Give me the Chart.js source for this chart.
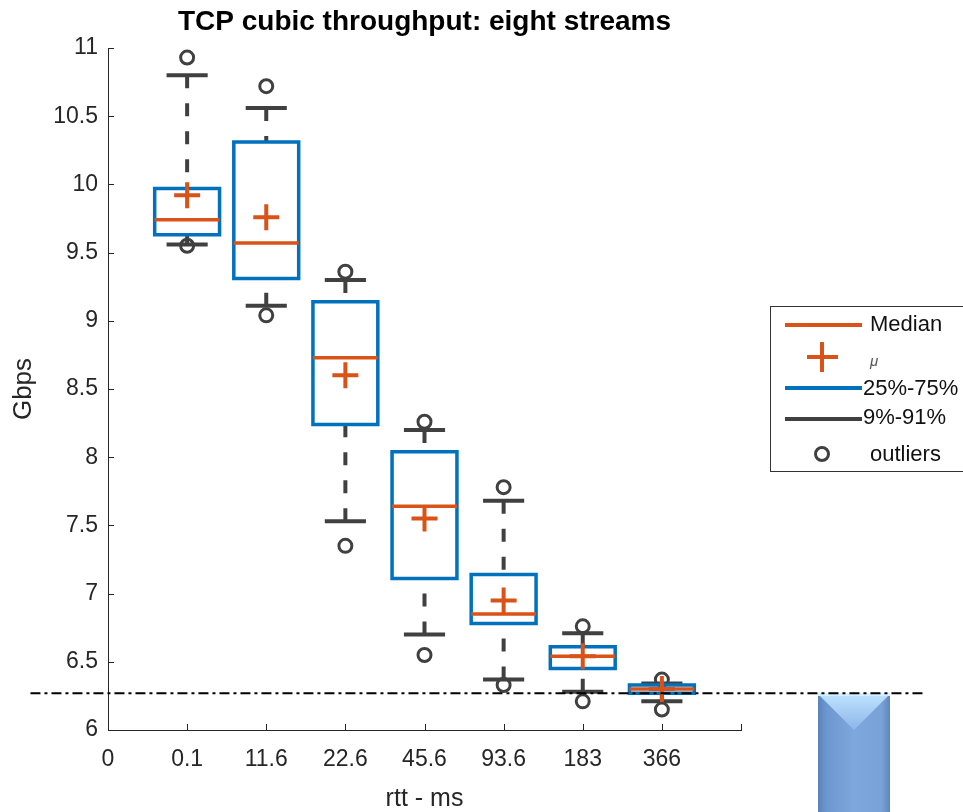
<!DOCTYPE html>
<html><head><meta charset="utf-8">
<script src="https://cdn.jsdelivr.net/npm/chart.js@4"></script>
<style>html,body{margin:0;padding:0;background:#fff}#wrap{width:963px;height:812px;position:relative}</style>
</head><body><div id="wrap"><canvas id="c" width="963" height="812"></canvas></div>
<script>
// ---- data ----
const categories = ['0.1','11.6','22.6','45.6','93.6','183','366'];
const tickLabels = ['0','0.1','11.6','22.6','45.6','93.6','183','366',''];
const q1      = [9.63, 9.31, 8.24, 7.11, 6.78, 6.45, 6.27];
const q3      = [9.97, 10.31, 9.14, 8.04, 7.14, 6.61, 6.33];
const medians = [9.74, 9.57, 8.73, 7.64, 6.85, 6.54, 6.30];
const means   = [9.92, 9.76, 8.60, 7.55, 6.95, 6.54, 6.30];
const p91     = [10.80, 10.56, 9.30, 8.20, 7.68, 6.71, 6.34];
const p9      = [9.56, 9.11, 7.53, 6.70, 6.37, 6.28, 6.21];
const outHigh = [10.93, 10.72, 9.36, 8.26, 7.78, 6.76, 6.37];
const outLow  = [9.55, 9.04, 7.35, 6.55, 6.33, 6.21, 6.15];
const refLevel = [6.27];
const refSpan  = [-0.98, 10.3];

// ---- styles ----
const BLUE = '#0072BD', ORANGE = '#D95319', GRAY = '#404040', AXIS = '#262626';
const FONT = "'Liberation Sans', Arial, Helvetica, sans-serif";
const HW = 0.41, CW = 0.26;

function hsegs(vals, half){ const d=[]; vals.forEach((v,i)=>{ d.push({x:i+1-half,y:v},{x:i+1+half,y:v},{x:i+1,y:null}); }); return d; }
function boxes(){ const d=[]; categories.forEach((c,i)=>{ const x=i+1; d.push({x:x-HW,y:q1[i]},{x:x-HW,y:q3[i]},{x:x+HW,y:q3[i]},{x:x+HW,y:q1[i]},{x:x-HW,y:q1[i]},{x:x,y:null}); }); return d; }
function whiskers(){ const d=[]; categories.forEach((c,i)=>{ const x=i+1; d.push({x:x,y:p91[i]},{x:x,y:q3[i]},{x:x,y:null},{x:x,y:p9[i]},{x:x,y:q1[i]},{x:x,y:null}); }); return d; }
const pts = arr => arr.map((v,i)=>({x:i+1,y:v}));

const base = {showLine:true, pointRadius:0, tension:0, spanGaps:false, fill:false};

const decor = {
  id:'decor',
  beforeDatasetsDraw(chart){
    const ctx = chart.ctx; ctx.save();
    // blue arrow shape bottom right
    const L=818, R=890, T=694, B=812;
    let g = ctx.createLinearGradient(L,0,R,0);
    g.addColorStop(0,'#5b83bb'); g.addColorStop(0.12,'#6f97cf'); g.addColorStop(0.5,'#7ea7de');
    g.addColorStop(0.88,'#79a2d9'); g.addColorStop(1,'#5f86bd');
    ctx.fillStyle = g; ctx.fillRect(L,T,R-L,B-T);
    let g2 = ctx.createLinearGradient(0,T,0,T+36);
    g2.addColorStop(0,'#bfe3ff'); g2.addColorStop(1,'#8db5e8');
    ctx.fillStyle = g2; ctx.beginPath(); ctx.moveTo(L,T); ctx.lineTo(R,T); ctx.lineTo((L+R)/2,T+36); ctx.closePath(); ctx.fill();
    ctx.fillStyle='#d2f0ff'; ctx.fillRect(L,T-1,R-L,3);
    ctx.restore();
  },
  afterDraw(chart){
    const ctx = chart.ctx; const xs = chart.scales.x, ys = chart.scales.y;
    const a = chart.chartArea;
    ctx.save();
    ctx.strokeStyle = AXIS; ctx.lineWidth = 1;
    ys.ticks.forEach(t=>{ const p=Math.round(ys.getPixelForValue(t.value))+0.5; ctx.beginPath(); ctx.moveTo(a.left,p); ctx.lineTo(a.left+6,p); ctx.stroke(); });
    xs.ticks.forEach(t=>{ const p=Math.round(xs.getPixelForValue(t.value))+0.5; ctx.beginPath(); ctx.moveTo(p,a.bottom); ctx.lineTo(p,a.bottom-6); ctx.stroke(); });
    // legend
    const lx=770.5, ly=306.5;
    ctx.strokeStyle='#333'; ctx.lineWidth=1; ctx.fillStyle='#fff';
    ctx.fillRect(lx,ly,220,165); ctx.strokeRect(lx,ly,220,165);
    ctx.lineCap='butt';
    ctx.lineWidth=4;
    ctx.strokeStyle=ORANGE; ctx.beginPath(); ctx.moveTo(785,325); ctx.lineTo(862,325); ctx.stroke();
    ctx.beginPath(); ctx.moveTo(807,357); ctx.lineTo(838,357); ctx.moveTo(822,342); ctx.lineTo(822,372); ctx.stroke();
    ctx.strokeStyle=BLUE; ctx.beginPath(); ctx.moveTo(785,388); ctx.lineTo(862,388); ctx.stroke();
    ctx.strokeStyle=GRAY; ctx.beginPath(); ctx.moveTo(785,419); ctx.lineTo(862,419); ctx.stroke();
    ctx.lineWidth=3; ctx.beginPath(); ctx.arc(822,454,6.5,0,Math.PI*2); ctx.stroke();
    ctx.fillStyle='#111'; ctx.textBaseline='middle'; ctx.textAlign='left';
    ctx.font = '22px '+FONT;
    ctx.fillText('Median',870,325);
    ctx.fillText('25%-75%',863,389);
    ctx.fillText('9%-91%',863,418);
    ctx.fillText('outliers',870,455);
    ctx.fillStyle='#555';
    ctx.font = 'italic 15px '+FONT;
    ctx.fillText('\u03bc',870,362);
    ctx.restore();
  }
};

new Chart(document.getElementById('c'), {
  type:'scatter',
  data:{ datasets:[
    Object.assign({}, base, {label:'ref', order:0, clip:false, borderColor:'#000', borderWidth:2, borderDash:[10,4,3,4],
      data: refSpan.map(x=>({x:x, y:refLevel[0]}))}),
    {label:'mean', order:1, data: pts(means), pointStyle:'cross', pointRadius:13, pointBorderWidth:4, borderColor:ORANGE, backgroundColor:ORANGE, showLine:false},
    Object.assign({}, base, {label:'median', order:2, borderColor:ORANGE, borderWidth:3.5, data: hsegs(medians, HW)}),
    Object.assign({}, base, {label:'box', order:3, borderColor:BLUE, borderWidth:3.5, borderJoinStyle:'miter', borderCapStyle:'square', data: boxes()}),
    Object.assign({}, base, {label:'capHi', order:4, borderColor:GRAY, borderWidth:4, data: hsegs(p91, CW)}),
    Object.assign({}, base, {label:'capLo', order:4, borderColor:GRAY, borderWidth:4, data: hsegs(p9, CW)}),
    Object.assign({}, base, {label:'whisker', order:5, borderColor:GRAY, borderWidth:4, borderDash:[13,15], data: whiskers()}),
    {label:'outHi', order:6, data: pts(outHigh), pointStyle:'circle', pointRadius:6.5, pointBorderWidth:3, borderColor:GRAY, backgroundColor:'rgba(0,0,0,0)', showLine:false},
    {label:'outLo', order:6, data: pts(outLow), pointStyle:'circle', pointRadius:6.5, pointBorderWidth:3, borderColor:GRAY, backgroundColor:'rgba(0,0,0,0)', showLine:false}
  ]},
  options:{
    responsive:false, animation:false, events:[],
    layout:{padding:{left:0,right:222,top:0,bottom:0}},
    plugins:{
      legend:{display:false}, tooltip:{enabled:false},
      title:{display:true, fullSize:false, text:'TCP cubic throughput: eight streams', color:'#000',
        font:{family:FONT, size:28, weight:'bold'}, padding:{top:5,bottom:9.4}}
    },
    scales:{
      x:{type:'linear', min:0, max:8, grid:{display:false, drawTicks:false}, border:{display:true, color:AXIS, width:1},
        ticks:{stepSize:1, autoSkip:false, maxRotation:0, padding:16, color:AXIS, font:{family:FONT, size:23},
          callback:(v,i)=>tickLabels[i]},
        title:{display:true, text:'rtt - ms', color:AXIS, font:{family:FONT, size:25, lineHeight:1}, padding:{top:0,bottom:0}},
        afterFit:s=>{ s.height = 82; }},
      y:{type:'linear', min:6, max:11, grid:{display:false, drawTicks:false}, border:{display:true, color:AXIS, width:1},
        ticks:{stepSize:0.5, padding:10, color:AXIS, font:{family:FONT, size:23}, callback:v=>String(v)},
        title:{display:true, text:'Gbps', color:AXIS, font:{family:FONT, size:26, lineHeight:1.2}, padding:{top:8,bottom:0}},
        afterFit:s=>{ s.width = 108; }}
    }
  },
  plugins:[decor]
});
</script></body></html>
